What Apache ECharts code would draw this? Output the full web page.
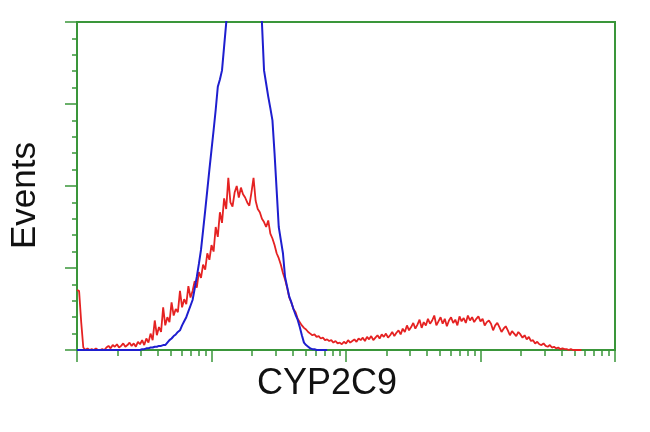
<!DOCTYPE html>
<html>
<head>
<meta charset="utf-8">
<script src="https://cdn.jsdelivr.net/npm/echarts@6/dist/echarts.min.js"></script>
<style>html,body{margin:0;padding:0;background:#fff;}#c{width:650px;height:432px;}</style>
</head>
<body>
<div id="c"></div>
<script>
// Histogram counts per channel (256 channels over 4 log decades)
const redCounts = [
73,72,34,3,0,2,0,1,0,2,0,0,1,0,3,5,2,6,4,7,
3,5,8,4,6,9,5,8,4,10,7,12,6,14,9,20,12,36,18,28,
22,52,30,40,34,58,42,50,46,72,52,62,56,78,64,72,84,76,95,88,
104,98,118,110,128,120,150,138,168,155,185,172,210,180,175,192,200,186,198,190,
186,180,176,192,210,182,172,168,160,156,150,158,142,136,128,118,112,104,94,86,
76,64,58,50,46,38,34,30,27,25,22,20,18,19,16,17,14,15,12,13,
11,12,9,11,8,9,7,10,8,12,9,11,13,10,14,12,15,11,16,13,
17,12,15,18,14,19,16,20,15,18,22,17,21,24,19,26,22,30,24,28,
33,26,31,37,27,34,30,38,32,36,42,30,35,40,32,38,29,36,40,33,
37,30,41,35,39,33,42,36,40,34,38,41,35,38,30,34,36,32,24,30,
33,28,22,26,29,24,18,23,20,17,22,19,15,18,13,16,11,12,8,10,
7,6,8,5,4,6,3,4,2,3,1,2,1,1,0,1,0,0,0,0,0
];
const blueCounts = [
0,0,0,0,0,0,0,0,0,0,0,0,0,0,0,0,0,0,0,0,
0,0,0,0,0,0,0,0,0,0,0,1,1,2,2,3,3,4,4,5,
5,6,6,9,12,14,17,19,22,24,30,35,40,47,54,61,75,89,105,122,
146,170,195,220,244,268,293,321,330,341,370,399,440,480,520,560,600,630,650,660,
660,650,630,600,560,520,480,440,399,341,325,309,295,280,240,195,150,134,118,89,
77,65,58,50,43,37,28,18,9,6,4,2,1,1,0,0,0,0,0,0
];
const channelMax = 256;
const decadeTicks = [0, 64, 128, 192, 256];
const xLabel = 'CYP2C9';
const yLabel = 'Events';

const green = '#3a963a';
const minorTicks = [];
for (let d = 0; d < 4; d++) {
  for (let k = 2; k <= 9; k++) minorTicks.push(64 * d + 64 * Math.log10(k));
}
const redData = redCounts.map((v, i) => [i, v]);
const blueData = blueCounts.map((v, i) => [i, v]);

const chart = echarts.init(document.getElementById('c'), null, {renderer: 'canvas'});
chart.setOption({
  animation: false,
  backgroundColor: '#ffffff',
  grid: {left: 77, right: 35, top: 22, bottom: 82, show: true, borderColor: green, borderWidth: 2, backgroundColor: 'transparent'},
  xAxis: [{
    type: 'value', min: 0, max: channelMax, interval: 64,
    axisLine: {show: true, lineStyle: {color: green, width: 2}},
    axisTick: {show: true, length: 12, lineStyle: {color: green, width: 1.5}, customValues: decadeTicks},
    axisLabel: {show: false}, splitLine: {show: false}
  }, {
    type: 'value', min: 0, max: channelMax, position: 'bottom',
    axisLine: {show: false},
    axisTick: {show: true, length: 6, lineStyle: {color: green, width: 1.5}, customValues: minorTicks},
    axisLabel: {show: false}, splitLine: {show: false}
  }],
  yAxis: {
    type: 'value', min: 0, max: 400, interval: 100,
    axisLine: {show: true, lineStyle: {color: green, width: 2}},
    axisTick: {show: true, length: 12, lineStyle: {color: green, width: 1.5}},
    minorTick: {show: true, splitNumber: 5, length: 5, lineStyle: {color: green, width: 1.5}},
    axisLabel: {show: false}, splitLine: {show: false}
  },
  graphic: [
    {type: 'text', left: 257, top: 366, style: {text: xLabel, font: '36px "Liberation Sans", Arial, sans-serif', fill: '#111'}},
    {type: 'text', x: 8, y: 249, rotation: Math.PI / 2, style: {text: yLabel, font: '35px "Liberation Sans", Arial, sans-serif', fill: '#111'}}
  ],
  series: [{
    type: 'line', data: redData, showSymbol: false, clip: true, xAxisIndex: 0,
    lineStyle: {color: '#e52222', width: 1.8}, z: 2
  }, {
    type: 'line', data: blueData, showSymbol: false, clip: true, xAxisIndex: 0,
    lineStyle: {color: '#1e1ecf', width: 2}, z: 3
  }]
});
</script>
</body>
</html>
